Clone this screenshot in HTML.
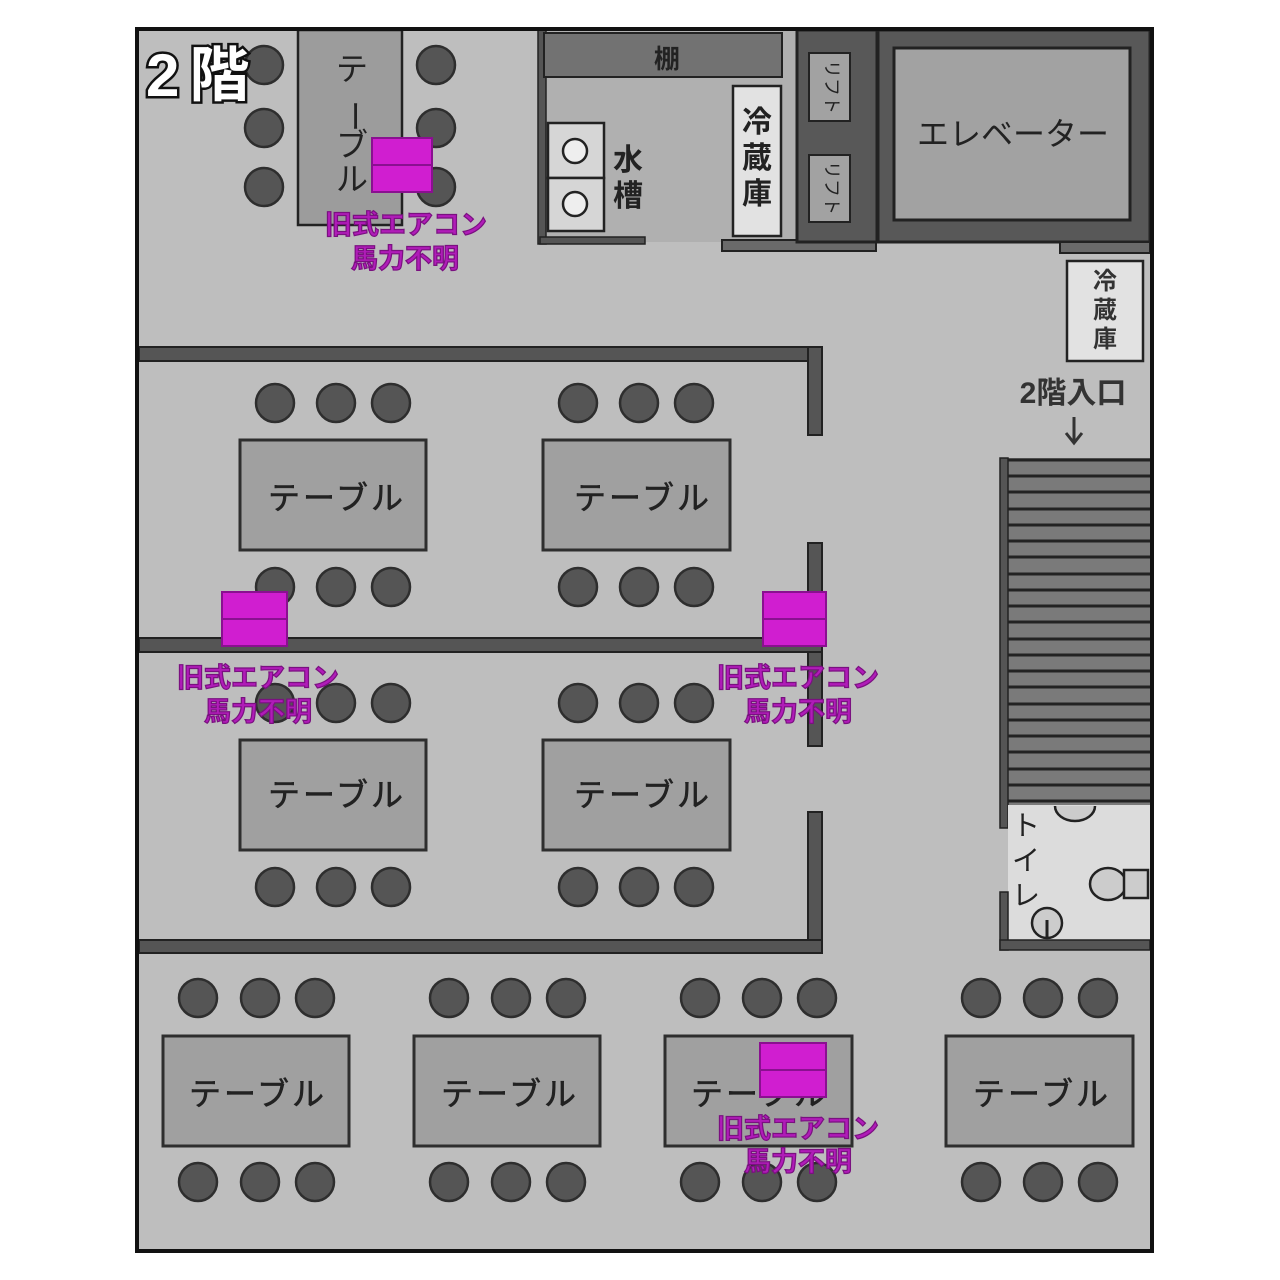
<!DOCTYPE html>
<html><head><meta charset="utf-8"><style>
html,body{margin:0;padding:0;background:#fff;}
svg{display:block}
text{font-family:"Liberation Sans","Noto Sans CJK JP",sans-serif;}
</style></head><body>
<svg width="1280" height="1280" viewBox="0 0 1280 1280" xmlns="http://www.w3.org/2000/svg">
<rect x="0" y="0" width="1280" height="1280" fill="#fff"/>
<rect x="137" y="29" width="1015" height="1222" fill="#bebebe"/>
<!-- kitchen -->
<rect x="540" y="30" width="258" height="212" fill="#b0b0b0"/>
<rect x="538" y="30" width="8" height="214" fill="#555" stroke="#222" stroke-width="1.5"/>
<rect x="544" y="33" width="238" height="44" fill="#727272" stroke="#222" stroke-width="2"/>
<text x="667" y="68" font-size="26" font-weight="bold" text-anchor="middle" fill="#222">棚</text>
<rect x="548" y="123" width="56" height="55" fill="#d6d6d6" stroke="#222" stroke-width="2.5"/>
<rect x="548" y="178" width="56" height="53" fill="#d6d6d6" stroke="#222" stroke-width="2.5"/>
<circle cx="575" cy="151" r="12" fill="#eee" stroke="#222" stroke-width="2.5"/>
<circle cx="575" cy="204" r="12" fill="#eee" stroke="#222" stroke-width="2.5"/>
<text x="628" y="170" font-size="30" font-weight="bold" text-anchor="middle" fill="#222">水</text>
<text x="628" y="206" font-size="30" font-weight="bold" text-anchor="middle" fill="#222">槽</text>
<rect x="540" y="237" width="105" height="7" fill="#555" stroke="#222" stroke-width="1.5"/>
<rect x="733" y="86" width="48" height="150" fill="#e2e2e2" stroke="#222" stroke-width="2.5"/>
<text x="757" y="132" font-size="30" font-weight="bold" text-anchor="middle" fill="#222">冷</text>
<text x="757" y="168" font-size="30" font-weight="bold" text-anchor="middle" fill="#222">蔵</text>
<text x="757" y="204" font-size="30" font-weight="bold" text-anchor="middle" fill="#222">庫</text>
<rect x="722" y="240" width="154" height="11" fill="#6a6a6a" stroke="#222" stroke-width="2"/>
<!-- lifts -->
<rect x="797" y="30" width="80" height="212" fill="#585858" stroke="#222" stroke-width="3"/>
<rect x="809" y="53" width="41" height="68" fill="#a2a2a2" stroke="#222" stroke-width="2"/>
<rect x="809" y="155" width="41" height="67" fill="#a2a2a2" stroke="#222" stroke-width="2"/>
<text transform="translate(830,87) rotate(90)" font-size="18" text-anchor="middle" dominant-baseline="middle" fill="#222">リフト</text>
<text transform="translate(830,188) rotate(90)" font-size="18" text-anchor="middle" dominant-baseline="middle" fill="#222">リフト</text>
<!-- elevator -->
<rect x="878" y="30" width="272" height="212" fill="#585858" stroke="#222" stroke-width="3"/>
<rect x="894" y="48" width="236" height="172" fill="#a2a2a2" stroke="#222" stroke-width="3"/>
<text x="1013" y="145" font-size="32" text-anchor="middle" fill="#222">エレベーター</text>
<rect x="1060" y="242" width="90" height="11" fill="#6a6a6a" stroke="#222" stroke-width="2"/>
<rect x="1067" y="261" width="76" height="100" fill="#e2e2e2" stroke="#222" stroke-width="2.5"/>
<text x="1105" y="289" font-size="24" font-weight="bold" text-anchor="middle" fill="#333">冷</text>
<text x="1105" y="318" font-size="24" font-weight="bold" text-anchor="middle" fill="#333">蔵</text>
<text x="1105" y="347" font-size="24" font-weight="bold" text-anchor="middle" fill="#333">庫</text>
<text x="1073" y="403" font-size="30" font-weight="bold" text-anchor="middle" fill="#333">2階入口</text>
<line x1="1074" y1="417" x2="1074" y2="441" stroke="#333" stroke-width="3"/>
<path d="M1066 433 L1074 443 L1082 433" fill="none" stroke="#333" stroke-width="3"/>
<!-- stairs -->
<rect x="1005" y="458" width="145" height="347" fill="#7a7a7a"/>
<g stroke="#222" stroke-width="3">
<line x1="1008" y1="460" x2="1150" y2="460"/><line x1="1008" y1="476" x2="1150" y2="476"/><line x1="1008" y1="492" x2="1150" y2="492"/><line x1="1008" y1="509" x2="1150" y2="509"/><line x1="1008" y1="525" x2="1150" y2="525"/><line x1="1008" y1="541" x2="1150" y2="541"/><line x1="1008" y1="557" x2="1150" y2="557"/><line x1="1008" y1="574" x2="1150" y2="574"/><line x1="1008" y1="590" x2="1150" y2="590"/><line x1="1008" y1="606" x2="1150" y2="606"/><line x1="1008" y1="622" x2="1150" y2="622"/><line x1="1008" y1="639" x2="1150" y2="639"/><line x1="1008" y1="655" x2="1150" y2="655"/><line x1="1008" y1="671" x2="1150" y2="671"/><line x1="1008" y1="687" x2="1150" y2="687"/><line x1="1008" y1="704" x2="1150" y2="704"/><line x1="1008" y1="720" x2="1150" y2="720"/><line x1="1008" y1="736" x2="1150" y2="736"/><line x1="1008" y1="752" x2="1150" y2="752"/><line x1="1008" y1="769" x2="1150" y2="769"/><line x1="1008" y1="785" x2="1150" y2="785"/><line x1="1008" y1="801" x2="1150" y2="801"/>
</g>
<rect x="1000" y="458" width="8" height="370" fill="#555" stroke="#222" stroke-width="1.5"/>
<!-- toilet -->
<rect x="1008" y="805" width="142" height="136" fill="#dcdcdc"/>
<rect x="1000" y="892" width="8" height="58" fill="#555" stroke="#222" stroke-width="1.5"/>
<rect x="1000" y="940" width="150" height="10" fill="#555" stroke="#222" stroke-width="1.5"/>
<path d="M1055 806 A20 15 0 0 0 1095 806" fill="#ccc" stroke="#222" stroke-width="2.5"/>
<ellipse cx="1108" cy="884" rx="18" ry="16" fill="#ccc" stroke="#222" stroke-width="2.5"/>
<rect x="1124" y="870" width="24" height="28" fill="#ccc" stroke="#222" stroke-width="2.5"/>
<circle cx="1047" cy="923" r="15" fill="#ccc" stroke="#222" stroke-width="2.5"/>
<line x1="1047" y1="920" x2="1047" y2="938" stroke="#222" stroke-width="3"/>
<g font-size="28" text-anchor="middle" fill="#222">
<text x="1026" y="835">ト</text><text x="1026" y="870">イ</text><text x="1026" y="905">レ</text>
</g>
<!-- partition walls -->
<g fill="#555" stroke="#222" stroke-width="2">
<rect x="139" y="347" width="683" height="14"/>
<rect x="808" y="347" width="14" height="88"/>
<rect x="808" y="543" width="14" height="203"/>
<rect x="139" y="638" width="683" height="14"/>
<rect x="808" y="812" width="14" height="141"/>
<rect x="139" y="940" width="683" height="13"/>
</g>
<!-- top-left table -->
<rect x="298" y="30" width="104" height="195" fill="#9c9c9c" stroke="#222" stroke-width="2.5"/>
<g font-size="32" text-anchor="middle" fill="#222">
<text x="352" y="80">テ</text>
<text transform="translate(352,116) rotate(90)" dominant-baseline="middle">ー</text>
<text x="352" y="156">ブ</text>
<text x="352" y="190">ル</text>
</g>
<!-- chairs -->
<g fill="#555" stroke="#2e2e2e" stroke-width="2.5">
<circle cx="264" cy="65" r="19"/><circle cx="264" cy="128" r="19"/><circle cx="264" cy="187" r="19"/>
<circle cx="436" cy="65" r="19"/><circle cx="436" cy="128" r="19"/><circle cx="436" cy="187" r="19"/>
<circle cx="275" cy="403" r="19"/><circle cx="336" cy="403" r="19"/><circle cx="391" cy="403" r="19"/>
<circle cx="578" cy="403" r="19"/><circle cx="639" cy="403" r="19"/><circle cx="694" cy="403" r="19"/>
<circle cx="275" cy="587" r="19"/><circle cx="336" cy="587" r="19"/><circle cx="391" cy="587" r="19"/>
<circle cx="578" cy="587" r="19"/><circle cx="639" cy="587" r="19"/><circle cx="694" cy="587" r="19"/>
<circle cx="275" cy="703" r="19"/><circle cx="336" cy="703" r="19"/><circle cx="391" cy="703" r="19"/>
<circle cx="578" cy="703" r="19"/><circle cx="639" cy="703" r="19"/><circle cx="694" cy="703" r="19"/>
<circle cx="275" cy="887" r="19"/><circle cx="336" cy="887" r="19"/><circle cx="391" cy="887" r="19"/>
<circle cx="578" cy="887" r="19"/><circle cx="639" cy="887" r="19"/><circle cx="694" cy="887" r="19"/>
<circle cx="198" cy="998" r="19"/><circle cx="260" cy="998" r="19"/><circle cx="315" cy="998" r="19"/>
<circle cx="449" cy="998" r="19"/><circle cx="511" cy="998" r="19"/><circle cx="566" cy="998" r="19"/>
<circle cx="700" cy="998" r="19"/><circle cx="762" cy="998" r="19"/><circle cx="817" cy="998" r="19"/>
<circle cx="981" cy="998" r="19"/><circle cx="1043" cy="998" r="19"/><circle cx="1098" cy="998" r="19"/>
<circle cx="198" cy="1182" r="19"/><circle cx="260" cy="1182" r="19"/><circle cx="315" cy="1182" r="19"/>
<circle cx="449" cy="1182" r="19"/><circle cx="511" cy="1182" r="19"/><circle cx="566" cy="1182" r="19"/>
<circle cx="700" cy="1182" r="19"/><circle cx="762" cy="1182" r="19"/><circle cx="817" cy="1182" r="19"/>
<circle cx="981" cy="1182" r="19"/><circle cx="1043" cy="1182" r="19"/><circle cx="1098" cy="1182" r="19"/>
</g>
<!-- tables -->
<g fill="#a0a0a0" stroke="#2e2e2e" stroke-width="3">
<rect x="240" y="440" width="186" height="110"/><rect x="543" y="440" width="187" height="110"/>
<rect x="240" y="740" width="186" height="110"/><rect x="543" y="740" width="187" height="110"/>
<rect x="163" y="1036" width="186" height="110"/><rect x="414" y="1036" width="186" height="110"/>
<rect x="665" y="1036" width="187" height="110"/><rect x="946" y="1036" width="187" height="110"/>
</g>
<g font-size="32" text-anchor="middle" fill="#222" letter-spacing="3" stroke="#222" stroke-width="0.6">
<text x="337" y="509">テーブル</text><text x="643" y="509">テーブル</text>
<text x="337" y="806">テーブル</text><text x="643" y="806">テーブル</text>
<text x="258" y="1105">テーブル</text><text x="510" y="1105">テーブル</text>
<text x="760" y="1105">テーブル</text><text x="1042" y="1105">テーブル</text>
</g>
<!-- AC units -->
<g fill="#d01ed0" stroke="#8a1090" stroke-width="2">
<rect x="372" y="138" width="60" height="27"/><rect x="372" y="165" width="60" height="27"/>
<rect x="222" y="592" width="65" height="27"/><rect x="222" y="619" width="65" height="27"/>
<rect x="763" y="592" width="63" height="27"/><rect x="763" y="619" width="63" height="27"/>
<rect x="760" y="1043" width="66" height="27"/><rect x="760" y="1070" width="66" height="27"/>
</g>
<g font-size="27" font-weight="bold" text-anchor="middle" fill="#b01cb8" stroke="#7a1080" stroke-width="1.2">
<text x="406" y="234">旧式エアコン</text><text x="405" y="268">馬力不明</text>
<text x="258" y="687">旧式エアコン</text><text x="258" y="721">馬力不明</text>
<text x="798" y="687">旧式エアコン</text><text x="798" y="721">馬力不明</text>
<text x="798" y="1138">旧式エアコン</text><text x="798" y="1171">馬力不明</text>
</g>
<!-- title -->
<text x="146" y="96" font-size="60" font-weight="bold" letter-spacing="10" fill="#fff" stroke="#111" stroke-width="5" paint-order="stroke">2階</text>
<!-- outer border -->
<rect x="137" y="29" width="1015" height="1222" fill="none" stroke="#111" stroke-width="4"/>
</svg>
</body></html>
